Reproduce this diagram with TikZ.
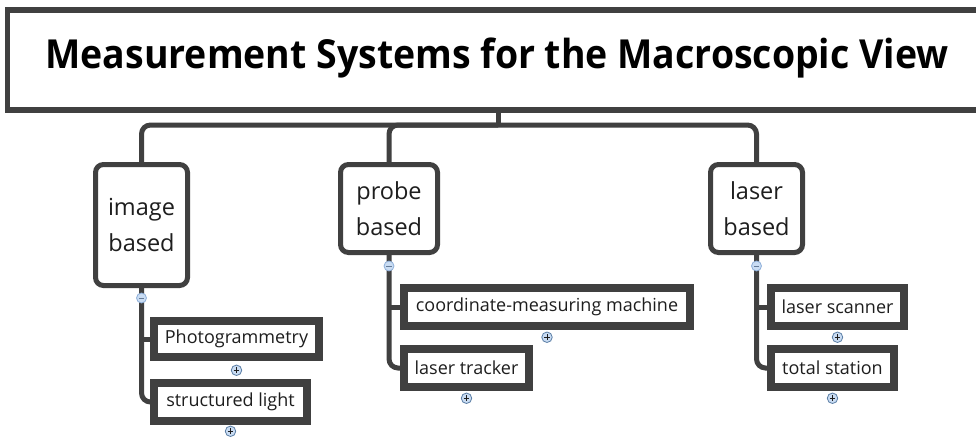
\documentclass[tikz,border=0pt]{standalone}
\usepackage{fontspec}
\setmainfont{Open Sans}
\newfontfamily\titlefont{Open Sans}
\definecolor{edge}{HTML}{404040}
\definecolor{ink}{HTML}{1E1E1E}
\definecolor{knobfill}{HTML}{C9DCF3}
\definecolor{knobline}{HTML}{8FB0DA}
\definecolor{plusline}{HTML}{5C7FA6}
\tikzset{
  wire/.style={draw=edge, line width=5pt, rounded corners=9pt},
  catbox/.style={draw=edge, line width=5pt, rounded corners=8pt, fill=white,
    text=ink, align=center, font=\fontsize{23.5}{36}\selectfont, inner sep=0pt},
  leafbox/.style={draw=edge, line width=5.5pt, fill=white, text=ink,
    font=\fontsize{18}{22}\selectfont, inner sep=0pt, anchor=center},
  minusknob/.style={circle, draw=knobline, fill=knobfill, line width=0.8pt,
    minimum size=10pt, inner sep=0pt,
    path picture={\draw[knobline!70!black, line width=0.9pt]
      ([xshift=-2.6pt]path picture bounding box.center) --
      ([xshift=2.6pt]path picture bounding box.center);}},
  plusknob/.style={circle, draw=plusline, fill=knobfill, line width=0.8pt,
    minimum size=10.5pt, inner sep=0pt,
    path picture={\draw[ink, line width=0.9pt]
      ([xshift=-2.8pt]path picture bounding box.center) --
      ([xshift=2.8pt]path picture bounding box.center)
      ([yshift=-2.8pt]path picture bounding box.center) --
      ([yshift=2.8pt]path picture bounding box.center);}},
}
\begin{document}
\begin{tikzpicture}[x=1pt,y=-1pt]
\useasboundingbox (0,0) rectangle (976,436);
\clip (0,0) rectangle (976,436);
\fill[white] (0,0) rectangle (976,436);

% root topic, running off the right edge
\draw[draw=edge, line width=5.5pt] (7.5,10) rectangle (1000,110);
\node[text=black, inner sep=0pt] (root) at (497,58)
  {\resizebox{903pt}{\height}{\titlefont\bfseries\fontsize{40}{48}\selectfont Measurement Systems for the Macroscopic View}};
\coordinate (rootfoot) at (498,110);
\coordinate (hub) at (498,125);

% main branches
\node[catbox, minimum width=92pt, minimum height=121pt] (img) at (141.5,225) {image\\based};
\node[catbox, minimum width=97pt, minimum height=88pt] (prb) at (389,208.5) {probe\\based};
\node[catbox, minimum width=92pt, minimum height=88pt] (lsr) at (756.5,208.5) {laser\\based};

% leaf topics
\node[leafbox, minimum width=162pt, minimum height=33pt] (photo) at (236.5,339) {Photogrammetry};
\node[leafbox, minimum width=150pt, minimum height=35pt] (struct) at (230.5,402) {structured light};
\node[leafbox, minimum width=283pt, minimum height=35pt] (cmm) at (547,307) {coordinate-measuring machine};
\node[leafbox, minimum width=122pt, minimum height=35pt] (track) at (466.5,368) {laser tracker};
\node[leafbox, minimum width=130pt, minimum height=35pt] (scan) at (837.5,307) {laser scanner};
\node[leafbox, minimum width=120pt, minimum height=35pt] (stat) at (832.5,368) {total station};

% connectors from the root
\draw[wire] (rootfoot) -- (hub);
\draw[wire] (hub) -| (img.north);
\draw[wire] (hub) -| (prb.north);
\draw[wire] (hub) -| (lsr.north);

% connectors to the leaves
\draw[wire] (img.south) |- (struct.west);
\draw[wire, rounded corners=0pt] (img.south |- photo.west) -- (photo.west);
\draw[wire] (prb.south) |- (track.west);
\draw[wire, rounded corners=0pt] (prb.south |- cmm.west) -- (cmm.west);
\draw[wire] (lsr.south) |- (stat.west);
\draw[wire, rounded corners=0pt] (lsr.south |- scan.west) -- (scan.west);

% redraw leaves over the wire ends
\foreach \n in {photo,struct,cmm,track,scan,stat}{
  \draw[draw=edge, line width=5.5pt] (\n.south west) rectangle (\n.north east);
}

% collapse and expand knobs
\node[minusknob] (m1) at ([yshift=-10pt]img.south) {};
\node[minusknob] (m2) at ([yshift=-11pt]prb.south) {};
\node[minusknob] (m3) at ([yshift=-11pt]lsr.south) {};
\node[plusknob] (p1) at ([yshift=-12pt]photo.south) {};
\node[plusknob] (p2) at ([yshift=-9pt]struct.south) {};
\node[plusknob] (p3) at ([yshift=-10pt]cmm.south) {};
\node[plusknob] (p4) at ([yshift=-10pt]track.south) {};
\node[plusknob] (p5) at ([yshift=-10pt]scan.south) {};
\node[plusknob] (p6) at ([yshift=-10pt]stat.south) {};
\end{tikzpicture}
\end{document}
